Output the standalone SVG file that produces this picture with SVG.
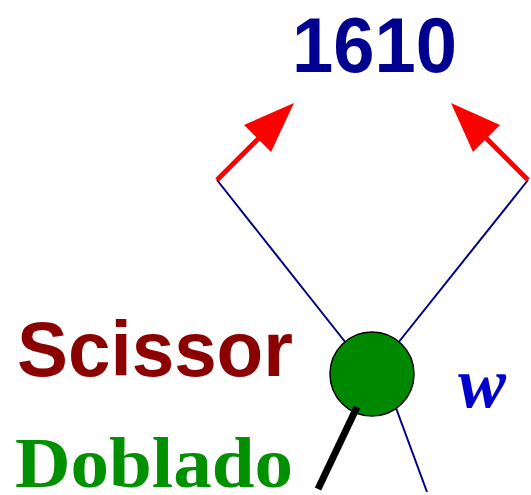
<svg xmlns="http://www.w3.org/2000/svg" width="531" height="495" viewBox="0 0 531 495">
  <style>
    .leg { stroke: #000080; stroke-width: 2; fill: none; }
    .arrow { stroke: #ff0000; stroke-width: 5; fill: none; }
    .head { fill: #ff0000; }
    .sans { font-family: "Liberation Sans", Arial, sans-serif; font-weight: bold; }
    .serif { font-family: "Liberation Serif", "Times New Roman", serif; font-weight: bold; }
  </style>
  <rect width="531" height="495" fill="#ffffff"/>

  <g id="connectors">
    <line class="leg" x1="217" y1="180" x2="346" y2="343"/>
    <line class="leg" x1="528" y1="180" x2="398" y2="343"/>
    <line class="leg" x1="396" y1="408" x2="427" y2="492"/>
    <line class="arrow" x1="217" y1="180" x2="262" y2="135"/>
    <polygon class="head" points="294,103 244,125 271,152"/>
    <line class="arrow" x1="528" y1="180" x2="483" y2="135"/>
    <polygon class="head" points="451,103 500,125 473,152"/>
  </g>

  <g id="vertex">
    <circle cx="372" cy="374" r="42" fill="#008800" stroke="#000000" stroke-width="1.5"/>
    <line x1="357" y1="407" x2="318" y2="489" stroke="#000000" stroke-width="7"/>
  </g>

  <g id="labels">
    <text class="sans" x="292" y="72" font-size="78" fill="#000090" textLength="165" lengthAdjust="spacingAndGlyphs">1610</text>
    <text class="sans" x="17" y="376" font-size="78" fill="#8b0000" textLength="276" lengthAdjust="spacingAndGlyphs">Scissor</text>
    <text class="serif" x="15" y="487" font-size="72" fill="#009000" textLength="278" lengthAdjust="spacingAndGlyphs">Doblado</text>
    <text class="serif" x="458" y="407" font-size="72" font-style="italic" fill="#0000cc">w</text>
  </g>
</svg>
